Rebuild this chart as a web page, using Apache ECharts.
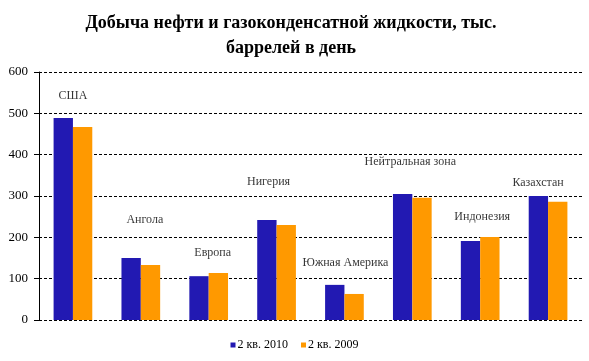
<!DOCTYPE html>
<html><head><meta charset="utf-8">
<script src="https://cdn.jsdelivr.net/npm/echarts@6/dist/echarts.min.js"></script>
<style>html,body{margin:0;padding:0;background:#fff}#c{width:589px;height:361px}</style>
</head><body><div id="c"></div>
<script>
const categories = ['США','Ангола','Европа','Нигерия','Южная Америка','Нейтральная зона','Индонезия','Казахстан'];
const series2010 = [489, 150, 106, 242, 85, 305, 191, 300];
const series2009 = [467, 133, 114, 230, 63, 296, 201, 286];
const seriesNames = ['2 кв. 2010', '2 кв. 2009'];
const yTicks = [0, 100, 200, 300, 400, 500, 600];
// placement of the category annotations (layout only)
const annotationLevels = [542, 242, 163, 335, 138, 383, 250, 331];
const annotationShiftX = [0, 4, 4, -8, 1, -2, 2, -10];

const font = '"Liberation Serif","Times New Roman",serif';
const chart = echarts.init(document.getElementById('c'), null, {renderer:'canvas'});
chart.setOption({
  animation: false,
  backgroundColor: '#fff',
  title: {
    text: 'Добыча нефти и газоконденсатной жидкости, тыс.\nбаррелей в день',
    left: 286, top: 6, textAlign: 'center',
    textStyle: {fontFamily: font, fontSize: 18, fontWeight: 'bold', color: '#000', lineHeight: 25}
  },
  legend: {
    data: seriesNames, bottom: 5, left: 'center',
    itemWidth: 5, itemHeight: 5, itemGap: 13,
    icon: 'rect',
    textStyle: {fontFamily: font, fontSize: 12, color: '#000', padding: [0,0,0,-3]}
  },
  grid: {left: 39, right: 7, top: 72, bottom: 41},
  xAxis: {
    type: 'category', data: categories,
    axisLine: {show: false}, axisTick: {show: false}, axisLabel: {show: false}
  },
  yAxis: {
    type: 'value', min: yTicks[0], max: yTicks[yTicks.length-1], interval: 100,
    axisLine: {show: true, lineStyle: {color: '#000', width: 1}},
    axisTick: {show: true, length: 5, lineStyle: {color: '#000'}},
    axisLabel: {fontFamily: font, fontSize: 13, color: '#000', margin: 11},
    splitLine: {show: true, lineStyle: {color: '#000', type: [3,2], width: 1}}
  },
  series: [
    {name: seriesNames[0], type: 'bar', data: series2010, barGap: '0%', barCategoryGap: '43%',
     itemStyle: {color: '#2219B2'}},
    {name: seriesNames[1], type: 'bar', data: series2009,
     itemStyle: {color: '#FF9900'}},
    {name: 'labels', type: 'scatter', symbolSize: 0, silent: true,
     data: annotationLevels.map((v, i) => ({value: [i, v], name: categories[i],
       label: {offset: [annotationShiftX[i], 0]}})),
     label: {show: true, position: 'inside', formatter: p => p.name,
       fontFamily: font, fontSize: 12, color: '#000'}}
  ]
});
</script></body></html>
